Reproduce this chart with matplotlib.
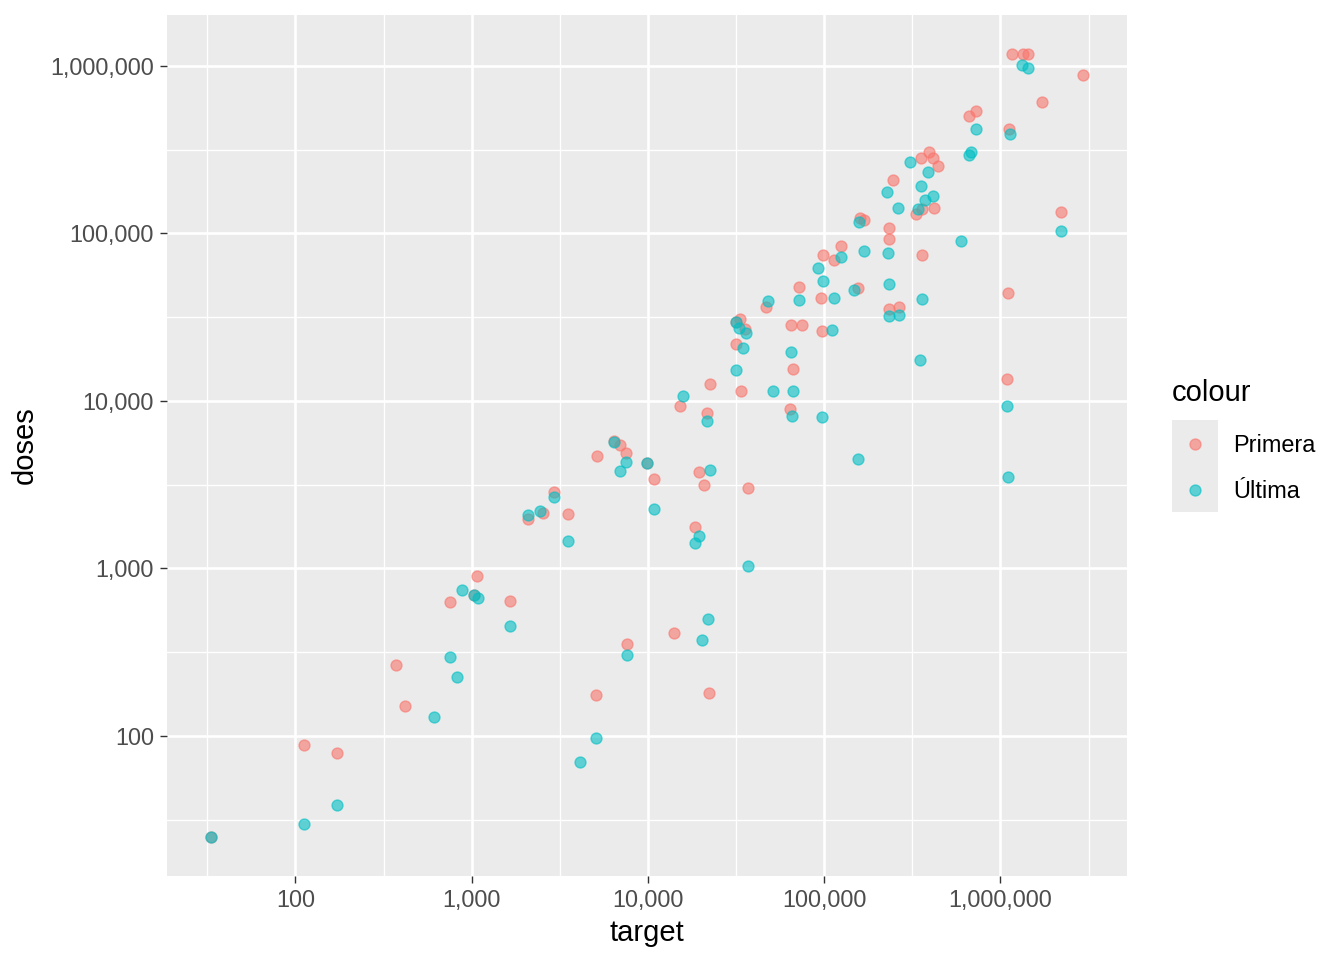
import numpy as np
import matplotlib
matplotlib.use("Agg")
import matplotlib.pyplot as plt
from matplotlib.ticker import FixedLocator, FuncFormatter, NullFormatter
from matplotlib.lines import Line2D
from matplotlib.patches import Rectangle

plt.rcParams["font.family"] = ["Liberation Sans", "DejaVu Sans"]

# values
primera_target = [33, 112, 173, 372, 419, 753, 1029, 1076, 1646, 2073, 2531, 2948, 3505,
                  5163, 6419, 6969, 7506, 7634, 5076, 9845, 10757, 14039, 19443, 20756,
                  18531, 22152, 21528, 15234, 22533, 36833, 33618, 31500, 33318, 35697,
                  31500, 46956, 63944, 66235, 65039, 75060, 71893, 95413, 97051, 98310,
                  113931, 125140, 155776, 158640, 167378, 233350, 231800, 245800, 233350,
                  267300, 330700, 360800, 418000, 359900, 355200, 391600, 416400, 441600,
                  662300, 729400, 1116000, 1160000, 1340000, 1430000, 1732000, 2955000,
                  2218000, 1107000, 1087000]
primera_doses = [25, 88, 79, 264, 151, 630, 698, 897, 643, 1963, 2151, 2871, 2102,
                 4661, 5751, 5422, 4857, 356, 176, 4233, 3431, 412, 3777, 3160,
                 1759, 181, 8492, 9259, 12524, 3015, 11378, 21842, 30788, 26915,
                 29465, 36546, 8972, 15537, 28549, 28274, 47973, 41372, 26033, 73944,
                 69680, 84236, 46989, 124050, 120200, 107110, 92100, 206800, 35320,
                 36546, 129800, 138800, 142300, 74350, 281900, 305700, 279600, 252300,
                 501300, 537000, 417200, 1168000, 1173000, 1173000, 604300, 880000,
                 133400, 44120, 13550]

ultima_target = [33, 112, 173, 614, 753, 829, 885, 1029, 1080, 1646, 2073, 2446, 2948,
                 3515, 6419, 7506, 6905, 9845, 10757, 7634, 5076, 4100, 15906, 21528,
                 22622, 19520, 18531, 22035, 20220, 36833, 31500, 32885, 35880, 34730,
                 31620, 51040, 66310, 66050, 97051, 65039, 47700, 71710, 92470, 98310,
                 114240, 110850, 125140, 148300, 154800, 158200, 167800, 229400, 232700,
                 228600, 263800, 305600, 340700, 356100, 371700, 416400, 388000, 360800,
                 351500, 233350, 265200, 600000, 662300, 683300, 729400, 1136000,
                 1334000, 1430000, 2218000, 1083000, 1107000]
ultima_doses = [25, 30, 39, 129, 296, 224, 743, 698, 666, 456, 2073, 2199, 2655,
                1457, 5687, 4310, 3835, 4233, 2251, 306, 97, 70, 10622, 7554,
                3871, 1554, 1425, 502, 376, 1033, 29465, 27140, 25410, 20730,
                15180, 11378, 11378, 8093, 7962, 19490, 39260, 40080, 61830, 52240,
                41200, 26470, 71820, 45640, 4516, 116300, 78520, 76700, 50120,
                177300, 141700, 267600, 138800, 191700, 158400, 166200, 231000, 40400,
                17650, 32000, 32530, 90440, 294600, 304100, 421000, 389400,
                1014000, 963600, 102800, 9259, 3527]

series_labels = ["Primera", "Última"]
series_colors = ["#F8766D", "#00BFC4"]
major_breaks = [100, 1000, 10000, 100000, 1000000]

fig = plt.figure(figsize=(13.44, 9.6), dpi=100)
ax = fig.add_axes([167 / 1344, 1 - 876 / 960, 960 / 1344, 861 / 960])
ax.set_facecolor("#EBEBEB")

ax.scatter(primera_target, primera_doses, s=62, color=series_colors[0],
           alpha=0.6, linewidths=1.0, zorder=3)
ax.scatter(ultima_target, ultima_doses, s=62, color=series_colors[1],
           alpha=0.6, linewidths=1.0, zorder=3)

ax.set_xscale("log")
ax.set_yscale("log")


def expanded(values, frac=0.05):
    lo, hi = np.log10(min(values)), np.log10(max(values))
    pad = (hi - lo) * frac
    return 10 ** (lo - pad), 10 ** (hi + pad)


ax.set_xlim(*expanded(primera_target + ultima_target))
ax.set_ylim(*expanded(primera_doses + ultima_doses))

minor_breaks = [10 ** (k + 0.5) for k in range(0, 8)]
for axis in (ax.xaxis, ax.yaxis):
    axis.set_major_locator(FixedLocator(major_breaks))
    axis.set_minor_locator(FixedLocator(minor_breaks))
    axis.set_major_formatter(FuncFormatter(lambda v, p: f"{v:,.0f}"))
    axis.set_minor_formatter(NullFormatter())

ax.grid(which="major", color="white", linewidth=1.9)
ax.grid(which="minor", color="white", linewidth=0.95)
ax.set_axisbelow(True)
for sp in ax.spines.values():
    sp.set_visible(False)

ax.tick_params(which="major", length=5.3, width=1.0, color="#333333",
               labelsize=16.9, labelcolor="#4D4D4D", pad=4)
ax.tick_params(which="minor", length=0)

ax.set_xlabel("target", fontsize=21, color="black", labelpad=5)
ax.set_ylabel("doses", fontsize=21, color="black", labelpad=8)

# legend: title, grey key box, then the entries
fig.text(1172 / 1344, 1 - 393 / 960, "colour", fontsize=21, ha="left", va="center")
fig.patches.append(Rectangle((1172 / 1344, 1 - 512 / 960), 46 / 1344, 92 / 960,
                             transform=fig.transFigure, facecolor="#EBEBEB",
                             edgecolor="none", zorder=0))
handles = [Line2D([], [], marker="o", linestyle="", markersize=7.9,
                  markerfacecolor=c, markeredgecolor=c, alpha=0.6, markeredgewidth=1.0)
           for c in series_colors]
fig.legend(handles, series_labels, loc="upper left",
           bbox_to_anchor=(1172 / 1344, 1 - 434 / 960), frameon=False,
           fontsize=16.9, handlelength=1.96, handletextpad=0.64,
           labelspacing=1.0, borderpad=0, borderaxespad=0)

fig.savefig("out.png", dpi=100)
